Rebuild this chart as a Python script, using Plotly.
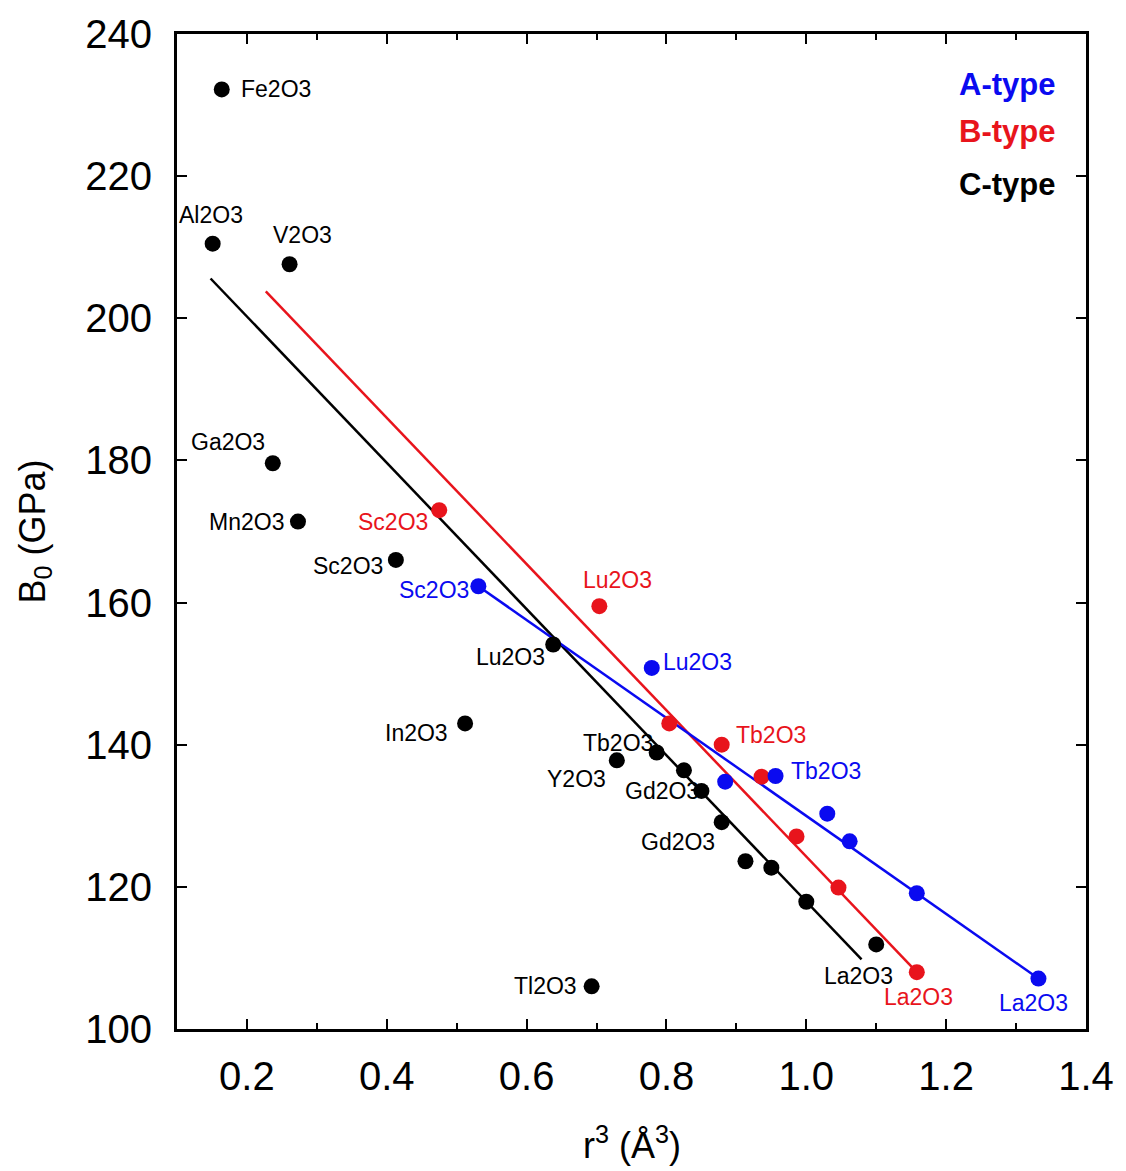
import plotly.graph_objects as go

# ---- data -------------------------------------------------------------
# C-type sesquioxides: r^3 (Å^3) and bulk modulus B0 (GPa)
c_x = [0.164, 0.151, 0.261, 0.237, 0.273, 0.413, 0.512, 0.638, 0.693,
       0.729, 0.786, 0.825, 0.850, 0.879, 0.913, 0.950, 1.000, 1.100]
c_y = [232.2, 210.5, 207.6, 179.6, 171.4, 166.0, 143.0, 154.1, 106.0,
       137.8, 138.9, 136.4, 133.5, 129.1, 123.6, 122.7, 117.9, 111.9]
c_names = ["Fe2O3", "Al2O3", "V2O3", "Ga2O3", "Mn2O3", "Sc2O3", "In2O3", "Lu2O3", "Tl2O3",
           "Y2O3", "Tb2O3", "", "Gd2O3", "Gd2O3", "", "", "", "La2O3"]

# B-type
b_x = [0.475, 0.704, 0.804, 0.879, 0.936, 0.986, 1.046, 1.158]
b_y = [173.0, 159.5, 143.0, 140.0, 135.5, 127.1, 119.9, 108.0]
b_names = ["Sc2O3", "Lu2O3", "", "Tb2O3", "", "", "", "La2O3"]

# A-type
a_x = [0.531, 0.779, 0.884, 0.956, 1.030, 1.062, 1.158, 1.332]
a_y = [162.3, 150.8, 134.8, 135.6, 130.3, 126.4, 119.1, 107.1]
a_names = ["Sc2O3", "Lu2O3", "", "Tb2O3", "", "", "", "La2O3"]

# linear fits (end points)
c_fit_x = [0.148, 1.079]
c_fit_y = [205.6, 109.8]
b_fit_x = [0.227, 1.158]
b_fit_y = [203.8, 108.0]
a_fit_x = [0.531, 1.332]
a_fit_y = [162.3, 107.1]

x_ticks = [0.2, 0.4, 0.6, 0.8, 1.0, 1.2, 1.4]
x_tick_text = ["0.2", "0.4", "0.6", "0.8", "1.0", "1.2", "1.4"]
y_ticks = [100, 120, 140, 160, 180, 200, 220, 240]

# ---- style --------------------------------------------------------------
BLACK = "#000000"
RED = "#E8141C"
BLUE = "#0A0AF0"
FONT = "Liberation Sans, Arial, sans-serif"
LABEL_SIZE = 23

# label placement: (xanchor, xshift, yshift) in pixels from each marker
c_label_pos = [("left", 17, 0), ("center", -2, 29), ("center", 13, 29), ("center", -45, 21),
               ("right", -12, 0), ("right", -11, -6), ("right", -15, -10), ("right", -6, -12),
               ("right", -13, 0), ("right", -9, -19), ("right", -2, 10), None,
               ("right", 0, 0), ("right", -5, -20), None, None, None, ("center", -18, -32)]
b_label_pos = [("right", -9, -12), ("center", 18, 26), None, ("left", 12, 10),
               None, None, None, ("center", 2, -25)]
a_label_pos = [("right", -7, -4), ("left", 9, 6), None, ("left", 13, 5),
               None, None, None, ("center", -5, -24)]

fig = go.Figure()

for fx, fy, col in [(c_fit_x, c_fit_y, BLACK), (b_fit_x, b_fit_y, RED), (a_fit_x, a_fit_y, BLUE)]:
    fig.add_trace(go.Scatter(x=fx, y=fy, mode="lines",
                             line=dict(color=col, width=2.5), showlegend=False,
                             hoverinfo="skip"))

for xs, ys, col in [(c_x, c_y, BLACK), (b_x, b_y, RED), (a_x, a_y, BLUE)]:
    fig.add_trace(go.Scatter(x=xs, y=ys, mode="markers",
                             marker=dict(color=col, size=16, line=dict(width=0)),
                             showlegend=False))

annotations = []
for xs, ys, names, pos, col in [(c_x, c_y, c_names, c_label_pos, BLACK),
                                (b_x, b_y, b_names, b_label_pos, RED),
                                (a_x, a_y, a_names, a_label_pos, BLUE)]:
    for xv, yv, name, p in zip(xs, ys, names, pos):
        if not name or p is None:
            continue
        anchor, dx, dy = p
        annotations.append(dict(x=xv, y=yv, xref="x", yref="y", text=name,
                                showarrow=False, xanchor=anchor, yanchor="middle",
                                xshift=dx, yshift=dy,
                                font=dict(family=FONT, size=LABEL_SIZE, color=col)))

# type legend, right-aligned in the upper corner
for txt, col, ypix in [("A-type", BLUE, 80), ("B-type", RED, 127), ("C-type", BLACK, 180)]:
    annotations.append(dict(x=1.0, y=1.0, xref="paper", yref="paper", text=f"<b>{txt}</b>",
                            showarrow=False, xanchor="right", yanchor="middle",
                            xshift=-29, yshift=-(ypix - 30),
                            font=dict(family=FONT, size=31, color=col)))

# axis titles
annotations.append(dict(x=0, y=0.5, xref="paper", yref="paper",
                        text="B<sub>0</sub> (GPa)", textangle=-90, showarrow=False,
                        xanchor="center", yanchor="middle", xshift=-143,
                        font=dict(family=FONT, size=36, color=BLACK)))
annotations.append(dict(x=0.5, y=0, xref="paper", yref="paper",
                        text="r<sup>3</sup> (Å<sup>3</sup>)", showarrow=False,
                        xanchor="center", yanchor="middle", yshift=-114,
                        font=dict(family=FONT, size=36, color=BLACK)))

axis_common = dict(showline=True, linecolor=BLACK, linewidth=3, mirror="ticks",
                   ticks="inside", ticklen=10, tickwidth=2, tickcolor=BLACK,
                   showgrid=False, zeroline=False,
                   tickfont=dict(family=FONT, size=40, color=BLACK))

fig.update_layout(
    width=1126, height=1171,
    margin=dict(l=177, r=29, t=30, b=142),
    paper_bgcolor="white", plot_bgcolor="white",
    xaxis=dict(range=[0.1, 1.4], tickvals=x_ticks, ticktext=x_tick_text,
               minor=dict(dtick=0.1, tick0=0.1, ticks="inside", ticklen=6,
                          tickwidth=2, tickcolor=BLACK),
               ticklabelstandoff=10, **axis_common),
    yaxis=dict(range=[100, 240], tickvals=y_ticks, ticklabelstandoff=14, **axis_common),
    annotations=annotations,
)

fig.write_html("out.html")
